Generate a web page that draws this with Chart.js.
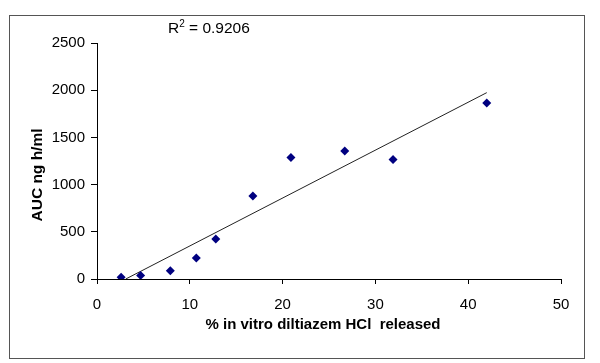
<!DOCTYPE html>
<html>
<head>
<meta charset="utf-8">
<script src="https://cdn.jsdelivr.net/npm/chart.js@4"></script>
<style>
    html, body { margin: 0; padding: 0; background: #fff; }
    #wrap { width: 600px; height: 363px; position: relative; }
</style>
</head>
<body>
<div id="wrap"><canvas id="auc-chart" width="600" height="363"></canvas></div>
<script>
// values
const releasedPct = [2.6, 4.7, 7.9, 10.7, 12.8, 16.8, 20.9, 26.7, 31.9, 42.0];
const aucValues = [18, 38, 88, 222, 424, 879, 1288, 1356, 1267, 1864];

// fitted trendline end points, as drawn in the reference
const trendX = [3.1, 42.0];
const trendY = [0, 1974];

const xTicks = [0, 10, 20, 30, 40, 50];
const yTicks = [0, 500, 1000, 1500, 2000, 2500];

const rSquaredLabel = '0.9206';
const xTitle = '% in vitro diltiazem HCl  released';
const yTitle = 'AUC ng h/ml';

const FONT = "'Liberation Sans', Arial, sans-serif";

// frame round the whole picture, R² note and the two axis titles
const decorations = {
    id: 'decorations',
    afterDraw(chart) {
        const ctx = chart.ctx;
        ctx.save();
        ctx.strokeStyle = '#555';
        ctx.lineWidth = 1;
        ctx.strokeRect(9.5, 15.5, 575, 343);

        ctx.fillStyle = '#000';
        ctx.textBaseline = 'alphabetic';
        ctx.textAlign = 'left';
        ctx.font = '15.5px ' + FONT;
        ctx.fillText('R', 168, 33);
        let w = ctx.measureText('R').width;
        ctx.font = '10px ' + FONT;
        ctx.fillText('2', 168 + w, 27);
        w += ctx.measureText('2').width;
        ctx.font = '15.5px ' + FONT;
        ctx.fillText(' = ' + rSquaredLabel, 168 + w, 33);

        ctx.font = 'bold 15px ' + FONT;
        ctx.textAlign = 'center';
        ctx.textBaseline = 'middle';
        ctx.fillText(xTitle, 323, 325);

        ctx.translate(38, 175);
        ctx.rotate(-Math.PI / 2);
        ctx.font = 'bold 15.5px ' + FONT;
        ctx.fillText(yTitle, 0, 0);
        ctx.restore();
    }
};

const ctx = document.getElementById('auc-chart').getContext('2d');
new Chart(ctx, {
    data: {
        datasets: [
            {
                type: 'scatter',
                label: 'AUC',
                data: releasedPct.map((x, i) => ({ x: x, y: aucValues[i] })),
                pointStyle: 'rectRot',
                pointRadius: 4.5,
                backgroundColor: '#000080',
                borderColor: '#000080',
                borderWidth: 0
            },
            {
                type: 'scatter',
                label: 'Linear fit',
                data: trendX.map((x, i) => ({ x: x, y: trendY[i] })),
                showLine: true,
                pointRadius: 0,
                borderColor: '#222',
                borderWidth: 1
            }
        ]
    },
    options: {
        responsive: false,
        animation: false,
        layout: { padding: { left: 0, top: 43, right: 39, bottom: 0 } },
        plugins: {
            legend: { display: false },
            tooltip: { enabled: false }
        },
        scales: {
            x: {
                type: 'linear',
                min: xTicks[0],
                max: xTicks[xTicks.length - 1],
                afterBuildTicks: scale => { scale.ticks = xTicks.map(v => ({ value: v })); },
                afterFit: scale => { scale.height = 84; },
                grid: { drawOnChartArea: false, color: '#000', tickLength: 5 },
                border: { color: '#000', width: 1 },
                ticks: {
                    color: '#000', padding: 12, maxRotation: 0,
                    font: { family: FONT, size: 15 },
                    callback: v => String(v)
                }
            },
            y: {
                type: 'linear',
                min: yTicks[0],
                max: yTicks[yTicks.length - 1],
                afterBuildTicks: scale => { scale.ticks = yTicks.map(v => ({ value: v })); },
                afterFit: scale => { scale.width = 97; },
                grid: { drawOnChartArea: false, color: '#000', tickLength: 6 },
                border: { color: '#000', width: 1 },
                ticks: {
                    color: '#000', padding: 6,
                    font: { family: FONT, size: 15 },
                    callback: v => String(v)
                }
            }
        }
    },
    plugins: [decorations]
});
</script>
</body>
</html>
